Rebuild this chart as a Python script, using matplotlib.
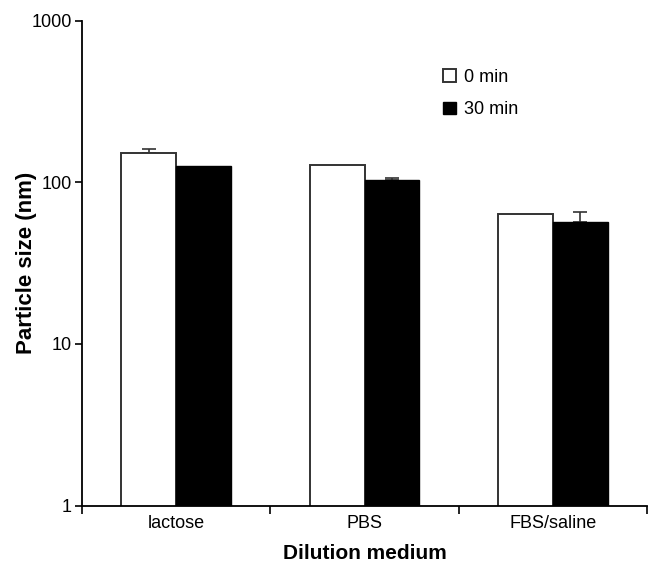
import matplotlib.pyplot as plt
import numpy as np

plt.rcParams["font.family"] = ["Liberation Sans", "DejaVu Sans"]

media = ["lactose", "PBS", "FBS/saline"]
series = ["0 min", "30 min"]
size_0min = [152.4, 128.5, 63.9]
size_30min = [126.0, 103.3, 57.1]
err_0min = [8.3, 0.0, 0.0]
err_30min = [0.0, 2.6, 8.7]

fig = plt.figure(figsize=(6.48, 5.65), dpi=100)
ax = fig.add_axes([0.126, 0.105, 0.873, 0.8585])

x = np.arange(len(media))
width = 0.29

ax.bar(x - width / 2, size_0min, width, color="white", edgecolor="#333333",
       linewidth=1.4, label=series[0], zorder=2)
ax.bar(x + width / 2, size_30min, width, color="black", edgecolor="black",
       linewidth=1.0, label=series[1], zorder=2)

# upper error bars only, and only where an error was shown
for offset, vals, errs in [(-width / 2, size_0min, err_0min),
                           (width / 2, size_30min, err_30min)]:
    keep = np.array(errs) > 0
    ax.errorbar((x + offset)[keep], np.array(vals)[keep],
                yerr=[np.zeros(keep.sum()), np.array(errs)[keep]], fmt="none",
                ecolor="#333333", elinewidth=1.2, capsize=5, capthick=1.2,
                zorder=1)

ax.set_yscale("log")
ax.set_ylim(1, 1000)
ax.set_xlim(-0.5, 2.5)
ax.set_yticks([1, 10, 100, 1000])
ax.set_yticklabels(["1", "10", "100", "1000"])
ax.yaxis.set_minor_locator(plt.NullLocator())

# category boundaries as ticks, names centred under groups
ax.set_xticks([-0.5, 0.5, 1.5, 2.5])
ax.set_xticklabels([])
ax.set_xticks(x, minor=True)
ax.set_xticklabels(media, minor=True)
ax.tick_params(axis="x", which="major", direction="out", length=6, width=1.2)
ax.tick_params(axis="x", which="minor", length=0, pad=7, labelsize=13)
ax.tick_params(axis="y", which="major", direction="out", length=5, width=1.2,
               pad=2, labelsize=13)

ax.spines["top"].set_visible(False)
ax.spines["right"].set_visible(False)
ax.spines["left"].set_linewidth(1.3)
ax.spines["bottom"].set_linewidth(1.3)

ax.set_ylabel("Particle size (nm)", fontsize=16, fontweight="bold", labelpad=-4)
ax.set_xlabel("Dilution medium", fontsize=15, fontweight="bold", labelpad=8)

ax.legend(frameon=False, loc="upper left", fontsize=13,
          bbox_to_anchor=(443 / 648, 1 - 69 / 565), bbox_transform=fig.transFigure,
          borderpad=0, borderaxespad=0, handlelength=0.7, handleheight=0.7,
          handletextpad=0.45, labelspacing=0.85)

fig.savefig("out.png", dpi=100)
